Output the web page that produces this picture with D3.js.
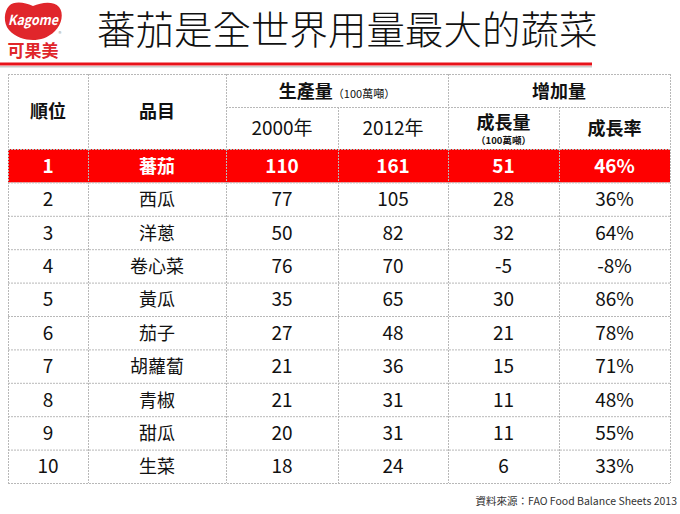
<!DOCTYPE html>
<html><head><meta charset="utf-8">
<script src="https://cdn.jsdelivr.net/npm/d3@7"></script>
<style>
html,body{margin:0;padding:0;background:#fff;}
svg{display:block;}
text{font-family:"Noto Sans CJK TC","Open Sans",sans-serif;}
</style></head>
<body>
<svg id="c" width="680" height="514"></svg>
<script>
const title = "蕃茄是全世界用量最大的蔬菜";
const ranks = [1,2,3,4,5,6,7,8,9,10];
const items = ["蕃茄","西瓜","洋蔥","卷心菜","黃瓜","茄子","胡蘿蔔","青椒","甜瓜","生菜"];
const prod2000 = [110,77,50,76,35,27,21,21,20,18];
const prod2012 = [161,105,82,70,65,48,36,31,31,24];
const growth = [51,28,32,-5,30,21,15,11,11,6];
const growthRate = ["46%","36%","64%","-8%","86%","78%","71%","48%","55%","33%"];
const source = "資料來源：FAO Food Balance Sheets 2013";

const svg = d3.select("#c");
const RED = "#fe0000";

// ---- Logo ----
const logo = svg.append("g");
logo.append("path")
  .attr("d","M9,6 C14,1 24,2 33,6 C42,2 54,1 59,7 C64,13 62,24 55,31 C48,38 40,40 33,40 C25,40 15,37 9,30 C3,23 4,11 9,6 Z")
  .attr("fill","#e0262b");
logo.append("text").attr("x",33).attr("y",25).attr("text-anchor","middle")
  .attr("font-family","DejaVu Serif, serif").attr("font-style","italic").attr("font-weight","bold")
  .attr("font-size",14).attr("fill","#fff").attr("textLength",50).attr("lengthAdjust","spacingAndGlyphs").text("Kagome");
logo.append("text").attr("x",60).attr("y",36).attr("text-anchor","middle")
  .attr("font-size",6).attr("fill","#999").text("®");
logo.append("text").attr("x",33).attr("y",57).attr("text-anchor","middle")
  .attr("font-size",17).attr("font-weight","bold").attr("fill","#e0262b").text("可果美");

// ---- Title ----
svg.append("text").attr("x",97).attr("y",44).attr("font-size",38.5).attr("font-weight",300)
  .attr("fill","#111").text(title);
svg.append("rect").attr("x",0).attr("y",66).attr("width",592).attr("height",1.5).attr("fill","#ccc");
svg.append("rect").attr("x",0).attr("y",62.5).attr("width",592).attr("height",3).attr("fill","#e8121a");

// ---- Table geometry ----
const colEdges = [8,88,226,338,448,559,670];
const colX = i => (colEdges[i]+colEdges[i+1])/2;
const yTop = 74, yMid = 107, yHead = 149, yBot = 483;
const y = d3.scaleBand().domain(ranks).range([yHead, yBot]).padding(0);

// red highlight row
svg.append("rect").attr("x",colEdges[0]).attr("y",y(1)).attr("width",colEdges[6]-colEdges[0])
  .attr("height",y.bandwidth()).attr("fill",RED);

// grid lines
const grid = svg.append("g").attr("stroke","#b8b8b8").attr("stroke-width",1).attr("stroke-dasharray","2,1").attr("fill","none");
const hLines = [yTop, yHead].concat(ranks.map(r => y(r)+y.bandwidth()));
hLines.forEach(yy => grid.append("line").attr("x1",colEdges[0]).attr("x2",colEdges[6]).attr("y1",yy+0.5).attr("y2",yy+0.5));
grid.append("line").attr("x1",colEdges[2]).attr("x2",colEdges[6]).attr("y1",yMid+0.5).attr("y2",yMid+0.5);
colEdges.forEach((xx,i) => {
  const top = (i===3 || i===5) ? yMid : yTop;
  grid.append("line").attr("x1",xx+0.5).attr("x2",xx+0.5).attr("y1",top).attr("y2",yBot);
});

// headers
const hd = svg.append("g").attr("fill","#111").attr("text-anchor","middle");
hd.append("text").attr("x",colX(0)).attr("y",118).attr("font-size",18).attr("font-weight","bold").text("順位");
hd.append("text").attr("x",colX(1)).attr("y",118).attr("font-size",18).attr("font-weight","bold").text("品目");
const ph = hd.append("text").attr("x",(colEdges[2]+colEdges[4])/2).attr("y",98);
ph.append("tspan").attr("font-size",18).attr("font-weight","bold").text("生產量");
ph.append("tspan").attr("font-size",11).text("（100萬噸）");
hd.append("text").attr("x",(colEdges[4]+colEdges[6])/2).attr("y",98).attr("font-size",18).attr("font-weight","bold").text("增加量");
hd.append("text").attr("x",colX(2)).attr("y",135).attr("font-size",19).text("2000年");
hd.append("text").attr("x",colX(3)).attr("y",135).attr("font-size",19).text("2012年");
hd.append("text").attr("x",colX(4)).attr("y",129).attr("font-size",18).attr("font-weight","bold").text("成長量");
hd.append("text").attr("x",colX(4)).attr("y",144).attr("font-size",9.5).attr("font-weight","bold").text("（100萬噸）");
hd.append("text").attr("x",colX(5)).attr("y",135).attr("font-size",18).attr("font-weight","bold").text("成長率");

// body rows
const rows = ranks.map((r,i) => ({r, cells:[r, items[i], prod2000[i], prod2012[i], growth[i], growthRate[i]]}));
const rg = svg.append("g").selectAll("g").data(rows).join("g")
  .attr("transform", d => `translate(0,${y(d.r)+y.bandwidth()/2})`);
rg.selectAll("text").data(d => d.cells.map((v,j)=>({v,j,top:d.r===1}))).join("text")
  .attr("x", d => colX(d.j)).attr("y", 7)
  .attr("text-anchor","middle")
  .attr("font-size", d => d.j===1 ? 18 : 19)
  .attr("font-weight", d => d.top ? "bold" : "normal")
  .attr("fill", d => d.top ? "#fff" : "#111")
  .text(d => d.v);

// footer
svg.append("text").attr("x",677).attr("y",505).attr("text-anchor","end").attr("font-size",10.5).attr("fill","#333").text(source);
</script>
</body></html>
